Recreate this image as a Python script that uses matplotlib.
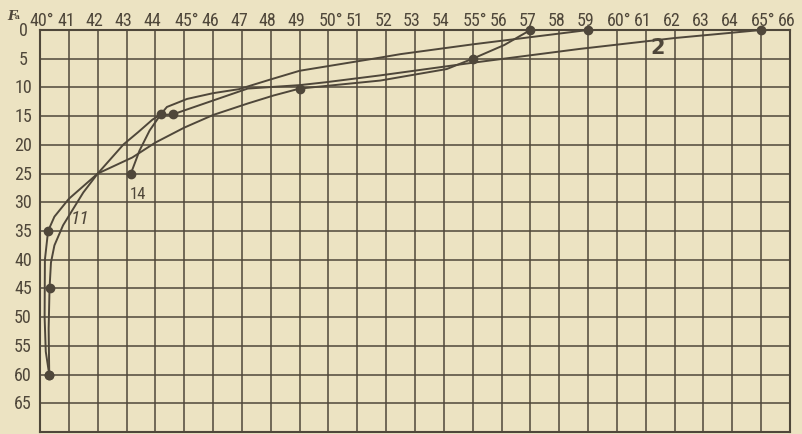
import matplotlib
matplotlib.use('Agg')
import matplotlib.pyplot as plt
import matplotlib.transforms as mtransforms
from matplotlib import font_manager

# temperature (deg F) against depth (fathoms), three stations
# traced points along each curve
temps_2 = [65.0, 62.0, 58.7, 55.0, 51.8, 49.9, 49.0, 47.2, 44.6, 44.15, 43.9, 43.4, 42.9, 42.0, 41.0, 40.5, 40.28, 40.17, 40.16, 40.2, 40.32]
depth_2 = [0, 1.4, 3.3, 5.7, 7.9, 9.1, 9.6, 10.2, 14.7, 14.8, 15.6, 17.8, 19.9, 25.0, 29.4, 32.5, 35.0, 40.0, 50.0, 56.0, 60.0]
temps_11 = [57.0, 56.1, 55.0, 54.1, 51.8, 49.0, 48.1, 47.2, 46.0, 45.0, 44.0, 43.2, 42.0, 41.5, 40.8, 40.5, 40.38, 40.33, 40.3, 40.32]
depth_11 = [0, 2.6, 5.0, 6.8, 8.8, 10.2, 11.4, 12.8, 14.8, 17.0, 19.6, 22.2, 25.0, 28.3, 34.0, 37.5, 40.5, 45.0, 52.0, 60.0]
temps_14 = [59.0, 55.0, 52.5, 51.8, 49.0, 48.0, 46.9, 46.0, 45.1, 44.4, 44.2, 43.8, 43.45, 43.15]
depth_14 = [0, 2.5, 4.2, 4.8, 7.1, 8.6, 10.3, 11.0, 12.0, 13.4, 14.6, 17.5, 21.0, 25.0]

# observation points (dots)
obs_temp_2 = [65.0, 44.6, 40.28, 40.32]
obs_depth_2 = [0, 14.7, 35.0, 60.0]
obs_temp_11 = [57.0, 55.0, 49.0, 40.33, 40.32]
obs_depth_11 = [0, 5.0, 10.2, 45.0, 60.0]
obs_temp_14 = [59.0, 44.2, 43.15]
obs_depth_14 = [0, 14.6, 25.0]

x_ticks = list(range(40, 67))
y_ticks = list(range(0, 70, 5))


def pick_font(names):
    for n in names:
        try:
            font_manager.findfont(font_manager.FontProperties(family=n), fallback_to_default=False)
            return n
        except ValueError:
            pass
    return 'DejaVu Sans'


narrow = pick_font(['Liberation Sans Narrow', 'Roboto Condensed', 'Liberation Sans'])

bg = '#ece3c2'
ink = '#4f473a'

fig = plt.figure(figsize=(8.02, 4.35), dpi=100, facecolor=bg)
ax = fig.add_axes([40 / 802, 2 / 435, 750 / 802, 402 / 435])
ax.set_facecolor(bg)
ax.set_xlim(40, 66)
ax.set_ylim(70, 0)

for t in x_ticks[1:-1]:
    ax.axvline(t, color=ink, lw=1.1, zorder=1)
for d in range(5, 70, 5):
    ax.axhline(d, color=ink, lw=1.1, zorder=1)
for s in ax.spines.values():
    s.set_color(ink)
    s.set_linewidth(1.5)

ax.set_xticks([])
ax.set_yticks([])

# curves
for tx, dp in [(temps_2, depth_2), (temps_11, depth_11), (temps_14, depth_14)]:
    ax.plot(tx, dp, color=ink, lw=1.4, zorder=3, solid_capstyle='round', solid_joinstyle='round')
for tx, dp in [(obs_temp_2, obs_depth_2), (obs_temp_11, obs_depth_11), (obs_temp_14, obs_depth_14)]:
    ax.plot(tx, dp, 'o', color=ink, ms=6, zorder=4, clip_on=False)

# tick labels at the top and left
shift = mtransforms.ScaledTranslation(-3 / 100, 0, fig.dpi_scale_trans)
shift_deg = mtransforms.ScaledTranslation(2 / 100, 0, fig.dpi_scale_trans)
for t in x_ticks:
    if t % 5 == 0:
        ax.text(t, -0.2, f'{t}\u00b0', ha='center', va='bottom', fontsize=13,
                family=narrow, color=ink, transform=ax.transData + shift_deg)
    else:
        ax.text(t, -0.2, str(t), ha='center', va='bottom', fontsize=13,
                family=narrow, color=ink, transform=ax.transData + shift)
ylab_tr = mtransforms.blended_transform_factory(fig.transFigure, ax.transData)
for d in y_ticks:
    ax.text(23 / 802, d, str(d), ha='center', va='center', fontsize=13,
            family=narrow, color=ink, transform=ylab_tr, clip_on=False)

fig.text(7 / 802, 1 - 20 / 435, 'F', fontsize=9.5, family='DejaVu Serif',
         fontweight='bold', fontstyle='italic', color=ink)
fig.text(15 / 802, 1 - 19 / 435, 'a', fontsize=5.5, family='DejaVu Serif',
         fontweight='bold', color=ink)

# station labels
ax.text(61.42, 2.9, '2', ha='center', va='center', fontsize=15, fontweight='bold',
        family='DejaVu Sans', color=ink, zorder=5)
ax.text(43.38, 28.4, '14', ha='center', va='center', fontsize=12,
        family=narrow, color=ink)
ax.text(41.39, 32.8, '11', ha='center', va='center', fontsize=14,
        family=narrow, fontstyle='italic', color=ink)

fig.savefig('out.png', dpi=100, facecolor=bg)
